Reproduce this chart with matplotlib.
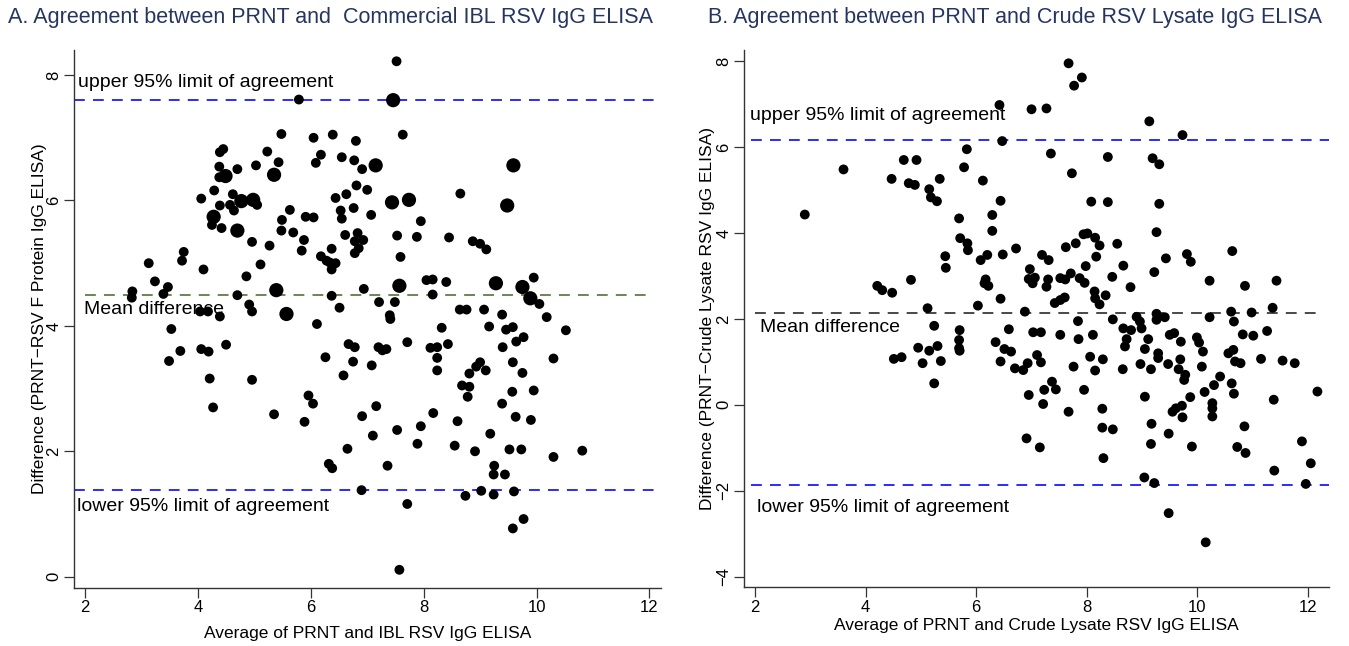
import matplotlib
matplotlib.use("Agg")
import matplotlib.pyplot as plt

plt.rcParams['font.family'] = ['Liberation Sans', 'DejaVu Sans']

# ---- panel A: PRNT vs commercial IBL ELISA ----
a_x = [7.52, 5.79, 7.63, 5.48, 6.05, 6.39, 6.80, 4.45, 4.39, 5.23, 6.18, 6.09, 5.43, 5.03, 4.70,
       4.38, 6.55, 6.77, 6.91, 4.38, 4.29, 4.06, 4.62, 4.39, 4.57, 5.05, 4.64, 5.63, 4.25,
       4.42, 5.49, 5.48, 5.69, 5.91, 6.05, 5.88, 5.84, 4.96, 5.27, 6.44, 6.63, 6.81, 7.00, 6.76,
       6.53, 6.55, 7.07, 6.61, 6.83, 6.78, 6.93, 6.85, 6.78, 6.37, 6.18, 6.28, 6.34, 6.44, 6.37,
       3.75, 3.72, 3.13, 4.10, 5.11, 4.86, 3.24, 3.47, 3.39, 2.84, 2.83, 4.70, 6.37, 6.94, 6.51,
       7.21, 4.91, 4.96, 4.04, 4.18, 4.39, 3.53, 3.69, 3.49, 4.06, 4.19, 4.50, 4.21, 4.27, 4.96,
       6.11, 5.35, 5.89, 5.96, 6.04, 6.26, 6.67, 6.78, 6.75, 6.58, 7.08, 7.20, 7.16, 6.91, 7.10,
       6.65, 6.32, 6.38, 6.90, 7.49, 7.40, 7.41, 8.32, 7.71, 7.27, 7.34, 8.12, 8.24, 8.43, 8.24,
       8.24, 8.64, 8.76, 9.07, 9.16, 9.39, 9.46, 9.58, 9.77, 9.64, 9.40, 10.18, 10.52, 10.30,
       10.05, 9.00, 8.93, 8.81, 9.10, 9.58, 9.75, 8.68, 8.81, 8.78, 9.57, 9.95, 9.39, 9.63, 9.90,
       8.17, 7.95, 7.53, 7.89, 8.60, 8.55, 9.18, 8.91, 9.52, 9.73, 10.30, 10.81, 7.36, 9.25, 9.24,
       9.44, 8.74, 9.02, 9.24, 9.60, 7.71, 9.77, 9.58, 7.57, 7.95, 7.53, 7.88, 8.45, 8.87, 9.00,
       9.11, 7.59, 8.65, 8.05, 8.16, 8.40, 8.16, 9.95]
a_y = [8.22, 7.61, 7.05, 7.06, 7.00, 7.05, 6.95, 6.82, 6.77, 6.78, 6.73, 6.60, 6.61, 6.56, 6.50,
       6.54, 6.69, 6.64, 6.50, 6.37, 6.16, 6.03, 6.10, 5.92, 5.93, 5.93, 5.84, 5.85, 5.61,
       5.56, 5.69, 5.52, 5.49, 5.74, 5.73, 5.37, 5.20, 5.34, 5.28, 6.04, 6.10, 6.24, 6.17, 5.88,
       5.84, 5.71, 5.77, 5.45, 5.48, 5.35, 5.37, 5.24, 5.16, 5.23, 5.11, 5.04, 5.01, 5.00, 4.90,
       5.18, 5.04, 5.00, 4.90, 4.98, 4.79, 4.71, 4.62, 4.51, 4.55, 4.45, 4.49, 4.48, 4.59, 4.29,
       4.38, 4.34, 4.23, 4.23, 4.23, 4.15, 3.95, 3.60, 3.44, 3.63, 3.59, 3.70, 3.16, 2.70, 3.14,
       4.03, 2.59, 2.47, 2.89, 2.76, 3.50, 3.71, 3.66, 3.43, 3.21, 3.37, 3.66, 2.72, 2.56, 2.25,
       2.04, 1.80, 1.73, 1.38, 4.38, 4.17, 4.11, 3.97, 3.74, 3.61, 3.63, 3.65, 3.66, 3.71, 3.49,
       3.29, 4.26, 4.26, 4.26, 3.99, 4.18, 3.94, 3.98, 3.82, 3.75, 3.66, 4.14, 3.93, 3.48,
       4.35, 3.42, 3.35, 3.24, 3.29, 3.42, 3.25, 3.05, 3.03, 2.87, 2.95, 2.97, 2.76, 2.55, 2.50,
       2.61, 2.40, 2.34, 2.12, 2.48, 2.09, 2.28, 2.00, 2.03, 2.03, 1.91, 2.01, 1.77, 1.77, 1.63,
       1.63, 1.29, 1.37, 1.31, 1.36, 1.16, 0.92, 0.77, 0.11, 5.67, 5.44, 5.42, 5.41, 5.35, 5.31,
       5.22, 5.10, 6.11, 4.73, 4.74, 4.70, 4.50, 4.77]
# points with several identical observations (drawn larger)
a_big_x = [7.46, 7.15, 5.35, 4.77, 4.98, 4.49, 4.28, 4.70, 7.44, 7.74, 9.59, 9.48, 5.39, 5.57,
           7.57, 9.28, 9.75, 9.89]
a_big_y = [7.60, 6.56, 6.41, 5.99, 6.01, 6.39, 5.74, 5.52, 5.97, 6.01, 6.56, 5.92, 4.57, 4.19,
           4.64, 4.68, 4.62, 4.44]
a_mean, a_upper, a_lower = 4.49, 7.60, 1.39

# ---- panel B: PRNT vs crude RSV lysate ELISA ----
b_x = [6.42, 7.00, 7.27, 6.47, 5.83, 3.60, 2.90, 4.69, 4.92, 4.47, 4.78, 4.89, 5.34, 5.15, 5.18,
       5.29, 5.78, 6.12, 6.44, 5.69, 6.29, 6.29, 5.71, 5.84, 5.85, 5.44, 5.45, 6.08, 6.20, 6.48,
       6.72, 7.19, 7.31, 6.97, 6.95, 7.06, 7.02, 7.27, 7.30, 4.21, 4.30, 4.48, 4.82, 6.17, 6.15,
       6.22, 6.44, 6.03, 5.12, 6.88, 5.24, 5.70, 6.59, 5.69, 5.69, 5.70, 4.95, 5.15, 5.30, 4.51,
       4.65, 5.03, 5.36, 5.24, 6.35, 6.51, 6.63, 6.44, 6.70, 6.85, 6.93, 7.03, 7.17, 7.10, 7.17,
       6.95, 7.23, 7.21, 6.91, 7.15, 7.37, 7.67, 7.91, 7.77, 9.13, 9.73, 7.35, 8.38, 9.19, 9.31,
       7.73, 8.08, 8.38, 9.31, 9.26, 7.94, 8.01, 7.80, 7.62, 8.15, 8.23, 8.55, 8.17, 7.98, 8.66,
       8.46, 9.43, 9.81, 9.88, 9.22, 10.63, 10.22, 10.86, 11.43, 7.52, 7.61, 7.71, 7.87, 7.96,
       7.42, 7.52, 7.60, 8.14, 8.15, 8.23, 8.34, 8.79, 7.84, 8.47, 8.90, 8.96, 8.99, 9.26, 9.26,
       9.41, 10.22, 10.61, 10.66, 10.98, 11.36, 11.26, 7.52, 7.85, 8.11, 8.66, 8.80, 8.72, 8.69,
       9.11, 9.05, 9.50, 9.58, 9.70, 9.99, 10.03, 10.10, 10.56, 10.65, 10.68, 10.78, 10.82, 11.01,
       11.15, 11.54, 11.76, 7.76, 8.06, 8.29, 8.15, 8.65, 8.97, 9.16, 9.29, 9.29, 9.47, 9.69,
       9.66, 9.78, 9.76, 10.08, 10.41, 10.30, 10.13, 10.62, 10.66, 9.87, 7.44, 7.95, 7.67, 8.28,
       8.28, 8.47, 8.30, 9.05, 9.17, 9.16, 9.48, 9.55, 9.61, 9.72, 9.73, 9.90, 10.27, 10.27,
       10.27, 10.85, 10.72, 10.87, 11.38, 12.17, 11.89, 12.05, 11.39, 11.96, 9.04, 9.22, 9.48,
       10.15]
b_y = [6.98, 6.88, 6.90, 6.14, 5.95, 5.48, 4.43, 5.70, 5.70, 5.26, 5.16, 5.12, 5.26, 5.02, 4.83,
       4.74, 5.53, 5.22, 4.75, 4.34, 4.42, 4.05, 3.88, 3.76, 3.60, 3.46, 3.19, 3.37, 3.49, 3.50,
       3.64, 3.49, 3.37, 3.16, 2.93, 2.96, 2.83, 2.75, 2.92, 2.77, 2.67, 2.61, 2.91, 2.92, 2.83,
       2.77, 2.47, 2.31, 2.25, 2.17, 1.84, 1.74, 1.76, 1.51, 1.32, 1.26, 1.33, 1.26, 1.37, 1.07,
       1.11, 0.97, 1.02, 0.50, 1.46, 1.30, 1.24, 1.01, 0.85, 0.81, 0.97, 1.69, 1.69, 1.16, 0.99,
       0.23, 0.35, 0.02, -0.78, -0.99, 0.54, 7.95, 7.62, 7.43, 6.60, 6.28, 5.85, 5.77, 5.74, 5.60,
       5.39, 4.73, 4.72, 4.68, 4.02, 3.97, 3.99, 3.76, 3.67, 3.89, 3.71, 3.75, 3.45, 3.23, 3.24,
       2.98, 3.41, 3.51, 3.33, 3.09, 3.58, 2.89, 2.77, 2.89, 2.95, 2.92, 3.06, 2.95, 2.84,
       2.37, 2.44, 2.50, 2.64, 2.48, 2.34, 2.55, 2.74, 1.95, 1.99, 2.05, 1.94, 1.78, 2.12, 1.98,
       2.04, 2.04, 2.17, 1.94, 2.15, 2.26, 1.72, 1.63, 1.53, 1.63, 1.78, 1.74, 1.53, 1.36,
       1.53, 1.30, 1.63, 1.67, 1.47, 1.57, 1.45, 1.24, 1.20, 1.28, 1.01, 0.97, 1.64, 1.61,
       1.07, 1.03, 0.97, 0.89, 1.12, 1.06, 0.80, 0.83, 0.95, 0.83, 1.20, 1.09, 0.95, 1.06,
       0.83, 0.70, 0.58, 0.89, 0.66, 0.46, 0.30, 0.50, 0.26, 0.18, 0.36, 0.35, -0.16, -0.09,
       -0.53, -0.57, -1.24, 0.19, -0.44, -0.91, -0.67, -0.16, -0.08, -0.02, -0.29, -0.97, 0.04, -0.08,
       -0.27, -0.50, -0.98, -1.12, 0.12, 0.31, -0.85, -1.36, -1.53, -1.84, -1.69, -1.82, -2.52,
       -3.20]
b_mean, b_upper, b_lower = 2.13, 6.16, -1.86

title_col = '#25355f'
limit_col = '#1a1aff'
dash = (6, 4.5)

fig = plt.figure(figsize=(13.49, 6.46), dpi=100)


def style_axis(ax, xlim, ylim, yticks):
	ax.set_xlim(*xlim)
	ax.set_ylim(*ylim)
	ax.set_xticks([2, 4, 6, 8, 10, 12])
	ax.set_yticks(yticks)
	for s in ['top', 'right']:
		ax.spines[s].set_visible(False)
	for s in ['left', 'bottom']:
		ax.spines[s].set_color('#333333')
		ax.spines[s].set_linewidth(1.0)
	ax.tick_params(direction='out', length=7, width=0.9, color='#333333', labelsize=12, pad=2)
	for lab in ax.get_yticklabels():
		lab.set_rotation(90)
		lab.set_va('center')


# panel A
ax1 = fig.add_axes([0.0546, 0.0898, 0.4352, 0.8328])
ax1.scatter(a_x, a_y, s=50, c='black', edgecolors='none', zorder=3)
ax1.scatter(a_big_x, a_big_y, s=105, c='black', edgecolors='none', zorder=3)
ax1.axhline(a_upper, color=limit_col, lw=1.3, dashes=dash, zorder=2)
ax1.axhline(a_lower, color=limit_col, lw=1.3, dashes=dash, zorder=2)
ax1.hlines(a_mean, 2, 12, color='#5e7d45', lw=1.3, linestyles=(0, dash), zorder=2)
ax1.text(1.88, 7.88, 'upper 95% limit of agreement', fontsize=14, va='center')
ax1.text(1.98, 4.26, 'Mean difference', fontsize=14, va='center')
ax1.text(1.86, 1.12, 'lower 95% limit of agreement', fontsize=14, va='center')
style_axis(ax1, (1.8, 12.2), (-0.18, 8.4), [0, 2, 4, 6, 8])
ax1.set_xlabel('Average of PRNT and IBL RSV IgG ELISA', fontsize=12.5)
ax1.set_ylabel('Difference (PRNT\u2212RSV F Protein IgG ELISA)', fontsize=12.5)
ax1.xaxis.set_label_coords(0.5, -0.085)
ax1.xaxis.label.set_va('center')
ax1.yaxis.set_label_coords(-0.058, 0.5)
ax1.yaxis.label.set_va('center')
fig.text(0.006, 0.973, 'A. Agreement between PRNT and  Commercial IBL RSV IgG ELISA',
         fontsize=15.5, color=title_col, va='center')

# panel B
ax2 = fig.add_axes([0.5515, 0.0913, 0.4337, 0.8313])
ax2.scatter(b_x, b_y, s=50, c='black', edgecolors='none', zorder=3)
ax2.hlines([b_upper, b_lower], 1.92, 12.38, color=limit_col, lw=1.3, linestyles=(0, dash), zorder=2)
ax2.hlines(b_mean, 2, 12.17, color='#3a3a3a', lw=1.3, linestyles=(0, dash), zorder=2)
ax2.text(1.91, 6.74, 'upper 95% limit of agreement', fontsize=14, va='center')
ax2.text(2.09, 1.81, 'Mean difference', fontsize=14, va='center')
ax2.text(2.04, -2.40, 'lower 95% limit of agreement', fontsize=14, va='center')
style_axis(ax2, (1.8, 12.38), (-4.24, 8.26), [-4, -2, 0, 2, 4, 6, 8])
ax2.set_xlabel('Average of PRNT and Crude Lysate RSV IgG ELISA', fontsize=12.5)
ax2.set_ylabel('Difference (PRNT\u2212Crude Lysate RSV IgG ELISA)', fontsize=12.5)
ax2.xaxis.set_label_coords(0.5, -0.072)
ax2.xaxis.label.set_va('center')
ax2.yaxis.set_label_coords(-0.062, 0.5)
ax2.yaxis.label.set_va('center')
fig.text(0.525, 0.973, 'B. Agreement between PRNT and Crude RSV Lysate IgG ELISA',
         fontsize=15.5, color=title_col, va='center')

fig.savefig('out.png', dpi=100)
